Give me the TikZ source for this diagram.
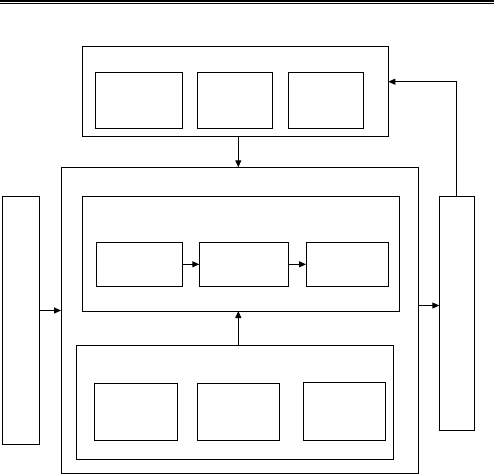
\documentclass[tikz,border=0pt]{standalone}
\usetikzlibrary{arrows.meta}
\begin{document}
\begin{tikzpicture}[x=1pt,y=-1pt,
  box/.style={draw,line width=0.9pt,rectangle,inner sep=0pt,outer sep=0pt},
  arr/.style={line width=0.9pt,-{Triangle[length=7pt,width=6pt]}}]
\useasboundingbox (0,0) rectangle (494,474);
% header rule
\coordinate (hl) at (0,0.8); \coordinate (hr) at (494,0.8);
\coordinate (hl2) at (0,2.9); \coordinate (hr2) at (494,2.9);
\draw[line width=1.6pt] (hl) -- (hr);
\draw[line width=0.7pt] (hl2) -- (hr2);
% top group
\node[box,minimum width=306,minimum height=90] (top) at (235.3,91) {};
\node[box,minimum width=87.7,minimum height=56] (t1) at (138.85,100.3) {};
\node[box,minimum width=75,minimum height=56] (t2) at (234.8,100.3) {};
\node[box,minimum width=75,minimum height=56] (t3) at (325.8,100.3) {};
% main
\node[box,minimum width=357.3,minimum height=305.7] (main) at (239.65,320.15) {};
\node[box,minimum width=317,minimum height=114.3] (up) at (240.5,253.85) {};
\node[box,minimum width=86.4,minimum height=44] (u1) at (139.5,264.3) {};
\node[box,minimum width=89.4,minimum height=44] (u2) at (244,264.3) {};
\node[box,minimum width=82.7,minimum height=44] (u3) at (347.35,264.3) {};
\node[box,minimum width=316.6,minimum height=114.4] (low) at (235,402.5) {};
\node[box,minimum width=83.4,minimum height=57.4] (l1) at (136,412) {};
\node[box,minimum width=82.4,minimum height=57.4] (l2) at (238.5,412) {};
\node[box,minimum width=82.7,minimum height=58.4] (l3) at (344.35,411.5) {};
% side columns
\node[box,minimum width=36.3,minimum height=248] (lcol) at (20.85,320.7) {};
\node[box,minimum width=35.4,minimum height=233.6] (rcol) at (457,313.5) {};
% connectors
\draw[arr] (top.south -| 238.3,0) -- (main.north -| 238.3,0);
\draw[arr] (u1.east) -- (u2.west);
\draw[arr] (u2.east) -- (u3.west);
\draw[arr] (low.north -| 238.3,0) -- (up.south -| 238.3,0);
\draw[arr] (lcol.east |- 0,310.5) -- (main.west |- 0,310.5);
\draw[arr] (main.east |- 0,305.5) -- (rcol.west |- 0,305.5);
\draw[arr] (rcol.north -| 456.7,0) -- (456.7,81.7) -- (top.east |- 0,81.7);
\end{tikzpicture}
\end{document}
